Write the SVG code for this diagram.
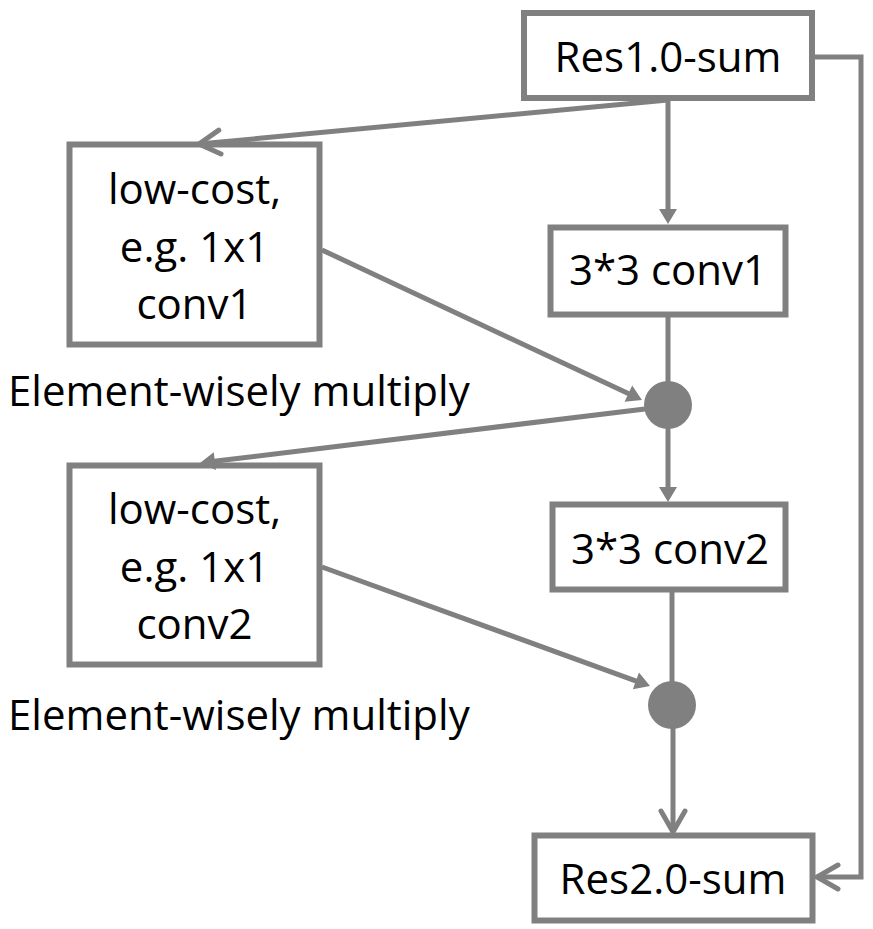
<svg xmlns="http://www.w3.org/2000/svg" width="873" height="929" viewBox="0 0 873 929">
  <style>
    .box { fill: #ffffff; stroke: #808080; stroke-width: 6; }
    .wire { fill: none; stroke: #808080; stroke-width: 5; }
    .dot { fill: #808080; }
    .lbl { font-family: "Open Sans", "Liberation Sans", sans-serif; font-size: 42px; fill: #000000; }
    .mid { text-anchor: middle; }
  </style>
  <defs>
    <!-- open chevron head -->
    <marker id="chev" markerUnits="userSpaceOnUse" markerWidth="40" markerHeight="40" viewBox="-30 -20 40 40" refX="0" refY="0" orient="auto">
      <path d="M -21 -12 L 0 0 L -21 12" fill="none" stroke="#808080" stroke-width="5" stroke-linecap="round" stroke-linejoin="miter"/>
    </marker>
    <!-- solid triangular head; tip sits 8px past the line end -->
    <marker id="tri" markerUnits="userSpaceOnUse" markerWidth="40" markerHeight="40" viewBox="-20 -20 40 40" refX="0" refY="0" orient="auto">
      <path d="M -7 -9 L 8 0 L -7 9 Z" fill="#808080"/>
    </marker>
  </defs>

  <g id="res1">
    <rect class="box" x="524" y="13" width="288" height="85"/>
    <text class="lbl mid" x="668" y="72">Res1.0-sum</text>
  </g>

  <g id="conv1">
    <rect class="box" x="550.5" y="227.5" width="235" height="87"/>
    <text class="lbl mid" x="668" y="285">3*3 conv1</text>
  </g>

  <g id="lowcost1">
    <rect class="box" x="69.5" y="144.5" width="250" height="200"/>
    <text class="lbl mid" x="194.5" y="204">low-cost,</text>
    <text class="lbl mid" x="194.5" y="262">e.g. 1x1</text>
    <text class="lbl mid" x="194.5" y="319">conv1</text>
  </g>

  <g id="mul1">
    <circle class="dot" cx="668" cy="405" r="24"/>
    <text class="lbl" x="8" y="406">Element-wisely multiply</text>
  </g>

  <g id="lowcost2">
    <rect class="box" x="69.5" y="465.5" width="250" height="199"/>
    <text class="lbl mid" x="194.5" y="524">low-cost,</text>
    <text class="lbl mid" x="194.5" y="582">e.g. 1x1</text>
    <text class="lbl mid" x="194.5" y="639">conv2</text>
  </g>

  <g id="conv2">
    <rect class="box" x="552.5" y="504.5" width="233" height="85"/>
    <text class="lbl mid" x="670" y="564">3*3 conv2</text>
  </g>

  <g id="mul2">
    <circle class="dot" cx="672" cy="705" r="24"/>
    <text class="lbl" x="8" y="730">Element-wisely multiply</text>
  </g>

  <g id="res2">
    <rect class="box" x="534.5" y="835.5" width="278" height="85"/>
    <text class="lbl mid" x="673" y="894">Res2.0-sum</text>
  </g>

  <!-- connectors, drawn last so heads sit over box edges -->
  <g id="connectors">
    <line class="wire" x1="668" y1="100" x2="199" y2="144" marker-end="url(#chev)"/>
    <line class="wire" x1="668" y1="100" x2="668" y2="216" marker-end="url(#tri)"/>
    <line class="wire" x1="322" y1="250" x2="634.7" y2="396.6" marker-end="url(#tri)"/>
    <line class="wire" x1="668" y1="317" x2="668" y2="384"/>
    <line class="wire" x1="645" y1="409" x2="207.9" y2="462" marker-end="url(#tri)"/>
    <line class="wire" x1="668" y1="428" x2="668" y2="494" marker-end="url(#tri)"/>
    <line class="wire" x1="322" y1="567" x2="642.5" y2="683.3" marker-end="url(#tri)"/>
    <line class="wire" x1="672" y1="592" x2="672" y2="684"/>
    <line class="wire" x1="673" y1="727" x2="673" y2="832" marker-end="url(#chev)"/>
    <polyline class="wire" points="815,57 861,57 861,877 817,877" marker-end="url(#chev)"/>
  </g>
</svg>
